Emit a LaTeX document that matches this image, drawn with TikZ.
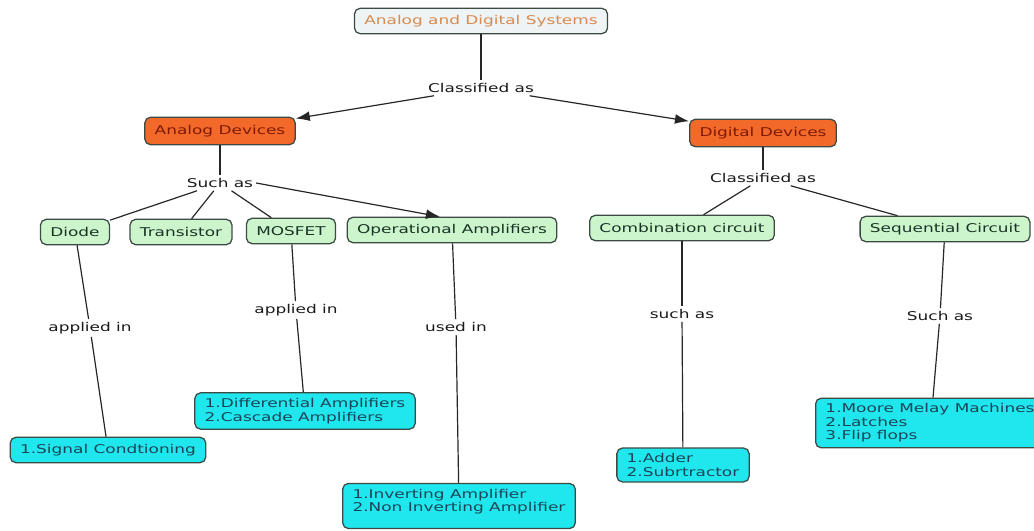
\documentclass[tikz,border=0pt]{standalone}
\usepackage{fontspec}
\setmainfont{DejaVu Sans}[FakeStretch=1.4]
\usetikzlibrary{arrows.meta, calc}

\definecolor{titlefill}{HTML}{EEF3F5}
\definecolor{titletext}{HTML}{D98A4C}
\definecolor{devfill}{HTML}{F2692A}
\definecolor{devtext}{HTML}{7E1A05}
\definecolor{partfill}{HTML}{CCF5CC}
\definecolor{parttext}{HTML}{1A3326}
\definecolor{usefill}{HTML}{20E6EE}
\definecolor{usetext}{HTML}{1B4556}
\definecolor{boxline}{HTML}{3C4A44}

\begin{document}
\begin{tikzpicture}[
    x=0.025cm, y=-0.025cm,
    box/.style={draw=boxline, rounded corners=4pt, line width=0.9pt,
        inner xsep=7pt, inner ysep=4pt, minimum height=18pt,
        font=\fontsize{8.6}{9.5}\selectfont},
    topbox/.style={box, fill=titlefill, text=titletext},
    device/.style={box, fill=devfill, text=devtext, minimum height=19.5pt},
    part/.style={box, fill=partfill, text=parttext},
    usebox/.style={box, fill=usefill, text=usetext, align=left},
    link/.style={inner sep=2pt, text=black!90, font=\fontsize{8.6}{9.5}\selectfont},
    conn/.style={draw=black!85, line width=0.85pt},
    arr/.style={conn, -{Latex[length=10pt, width=7pt]}}
]
    \useasboundingbox (0,0) rectangle (1034,531);

    % top level
    \node[topbox] (title) at (481, 21) {Analog and Digital Systems};
    \node[link] (cls1) at (481, 88) {Classified as};
    \node[device] (analog) at (220, 131) {Analog Devices};
    \node[device] (digital) at (763, 133) {Digital Devices};

    % analog side
    \node[link] (such1) at (220, 183) {Such as};
    \node[part] (diode) at (75, 232) {Diode};
    \node[part] (trans) at (181, 232) {Transistor};
    \node[part] (mosfet) at (291, 231) {MOSFET};
    \node[part] (opamp) at (452, 230) {Operational Amplifiers};

    \node[link] (app1) at (90, 328) {applied in};
    \node[link] (app2) at (296, 310) {applied in};
    \node[link] (usedin) at (456, 327) {used in};

    \node[usebox] (sig) at (108, 450) {1.Signal Condtioning};
    \node[usebox] (diff) at (305, 411) {1.Differential Amplifiers\\2.Cascade Amplifiers};
    \node[usebox, text depth=8pt] (inv) at (459, 506) {1.Inverting Amplifier\\2.Non Inverting Amplifier};

    % digital side
    \node[link] (cls2) at (763, 178) {Classified as};
    \node[part] (comb) at (682, 228) {Combination circuit};
    \node[part] (seq) at (945, 229) {Sequential Circuit};

    \node[link] (such2) at (682, 314) {such as};
    \node[link] (such3) at (940, 316) {Such as};

    \node[usebox] (adder) at (683, 465) {1.Adder\\2.Subrtractor};
    \node[usebox, anchor=west] (moore) at (815, 423) {1.Moore Melay Machines\\2.Latches\\3.Flip flops};

    % connectors
    \draw[conn] (title) -- (cls1);
    \draw[arr] (cls1) -- (analog);
    \draw[arr] (cls1) -- (digital);

    \draw[conn] (analog) -- (such1);
    \draw[conn] (such1) -- (diode);
    \draw[conn] (such1) -- (trans);
    \draw[conn] (such1) -- (mosfet);
    \draw[arr] (such1.east) -- ($(opamp.north)+(-12,0)$);

    \draw[conn] (diode) -- (app1);
    \draw[conn] (app1) -- (sig);
    \draw[conn] (mosfet) -- (app2);
    \draw[conn] (app2) -- (diff);
    \draw[conn] (opamp) -- (usedin);
    \draw[conn] (usedin) -- (inv);

    \draw[conn] (digital) -- (cls2);
    \draw[conn] (cls2) -- (comb);
    \draw[conn] (cls2) -- (seq);
    \draw[conn] (comb) -- (such2);
    \draw[conn] (such2) -- (adder);
    \draw[conn] (seq) -- (such3);
    \draw[conn] (such3) -- ($(moore.north west)+(118,0)$);
\end{tikzpicture}
\end{document}
